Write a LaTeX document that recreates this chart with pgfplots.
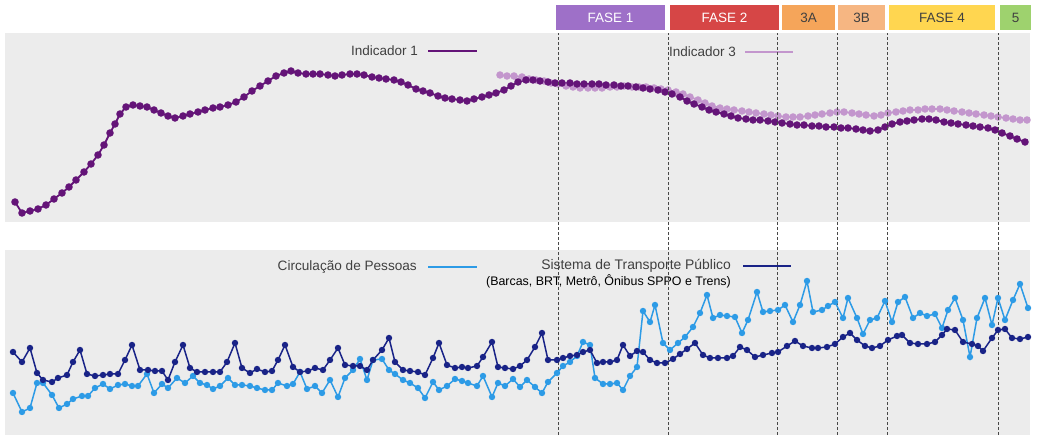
\documentclass[border=0pt]{standalone}
\usepackage{pgfplots}
\pgfplotsset{compat=1.18}
\usepackage{fontspec}
\setmainfont{Liberation Sans}
\definecolor{bggray}{RGB}{236,236,236}
\definecolor{ind1}{RGB}{100,20,120}
\definecolor{ind3}{RGB}{195,150,205}
\definecolor{circ}{RGB}{45,155,230}
\definecolor{stp}{RGB}{25,35,135}
\definecolor{txt}{RGB}{64,64,64}
\definecolor{f1}{RGB}{158,112,200}
\definecolor{f2}{RGB}{214,70,70}
\definecolor{f3a}{RGB}{245,165,90}
\definecolor{f3b}{RGB}{246,182,130}
\definecolor{f4}{RGB}{255,214,80}
\definecolor{f5}{RGB}{158,210,110}
\pgfplotstableread{
x y
15 20
22 9
30 11
38 13
46 17
54 23
62 29
69 35
76 42
84 50
91 58
98 67
104 77
110 89
115 98
120 108
126 115
133 117
140 116
147 115
154 112
161 109
168 106
175 104
183 106
190 108
198 110
205 112
213 114
220 115
228 117
236 120
244 125
252 131
260 136
268 141
276 146
284 149
291 151
298 149
306 148
313 148
320 148
328 147
335 146
342 147
350 148
357 148
364 147
372 145
379 144
386 143
394 142
401 140
408 137
416 133
423 131
430 129
438 126
445 124
452 123
460 122
467 121
474 123
482 125
489 127
496 129
504 132
511 136
518 140
526 142
533 142
540 141
548 140
555 139
562 139
570 139
577 138
584 138
592 138
599 138
606 137
614 137
621 136
628 136
636 135
643 134
650 133
658 132
665 130
672 128
680 125
687 121
694 118
702 115
709 112
716 110
724 108
731 106
738 104
746 103
753 102
760 102
768 101
775 100
782 99
790 98
797 97
804 97
812 96
819 96
826 95
834 95
841 94
848 94
856 93
863 92
870 91
878 92
885 95
892 98
900 100
907 101
914 102
922 103
929 103
936 102
944 100
951 99
958 98
966 97
973 96
980 95
988 94
995 92
1002 89
1010 86
1017 83
1025 80
}\indone
\pgfplotstableread{
x y
500 147
507 146
514 146
522 145
529 143
536 142
544 141
551 139
558 138
566 136
573 135
580 134
588 134
595 134
602 134
610 135
617 135
624 136
632 135
639 135
646 135
654 134
661 133
668 132
676 130
683 128
690 125
698 122
705 119
712 116
720 114
727 113
734 112
742 111
749 110
756 109
764 108
771 107
778 106
786 105
793 105
800 105
808 106
815 107
822 108
830 109
837 110
844 110
852 109
859 108
866 107
874 106
881 107
888 109
896 110
903 111
910 112
918 112
925 113
932 113
940 113
947 112
954 111
962 110
969 109
976 108
984 107
991 106
998 105
1006 104
1013 103
1020 102
1027 102
}\indthree
\pgfplotstableread{
x y
13 42
22 23
30 27
37 52
43 52
52 40
59 27
67 31
73 36
82 39
88 39
95 47
103 51
110 46
118 50
125 51
132 49
138 49
147 61
154 42
162 51
168 47
177 57
185 52
193 59
200 52
207 50
213 46
220 49
228 57
235 50
242 50
250 49
257 47
265 45
272 45
278 52
287 49
293 51
300 63
307 46
315 49
322 42
330 55
338 38
345 57
353 65
360 76
367 55
373 75
382 76
389 65
395 61
403 55
410 52
418 47
425 37
433 53
439 45
447 49
455 56
462 54
468 52
477 49
483 59
492 38
498 52
505 49
513 56
520 48
527 55
535 48
542 42
548 53
557 62
563 69
570 73
577 79
583 93
590 90
595 57
603 51
610 51
617 52
623 45
630 59
637 68
643 124
650 113
655 130
663 92
670 85
678 92
685 98
693 108
700 122
707 140
713 117
720 120
727 119
735 118
742 102
748 115
757 143
763 123
770 124
778 125
785 130
793 113
800 130
807 154
813 123
822 125
828 129
835 133
843 117
848 137
857 117
863 101
870 115
877 117
885 134
892 113
898 133
905 138
913 117
920 122
927 119
935 121
942 107
948 125
955 137
963 115
970 78
977 117
985 137
992 110
998 137
1005 115
1013 135
1020 151
1028 127
}\circdata
\pgfplotstableread{
x y
13 83
22 73
30 87
37 62
43 55
52 53
58 57
67 60
73 73
80 85
87 61
95 59
103 60
110 61
118 61
125 75
132 90
140 65
148 65
155 64
162 64
168 55
175 73
183 90
190 67
197 63
205 63
213 63
220 63
227 73
235 92
242 67
250 62
257 66
265 63
272 64
278 75
285 90
293 68
300 63
308 64
315 67
323 65
330 75
338 87
345 70
353 69
360 69
367 65
373 75
382 85
389 97
395 73
403 65
410 64
418 63
425 60
433 77
439 92
447 70
455 67
462 68
468 67
477 69
483 78
492 93
498 68
505 67
513 66
520 69
527 75
535 88
542 102
548 75
557 75
563 77
570 79
577 80
583 83
590 85
597 72
603 73
610 73
617 75
623 90
630 79
637 84
643 83
650 75
657 72
665 72
673 76
680 81
687 86
695 92
703 80
710 77
718 77
727 77
733 79
740 88
747 85
755 78
763 80
772 82
778 83
787 89
795 94
803 89
812 87
818 87
827 88
835 91
843 98
850 102
857 95
865 89
872 87
880 89
888 95
897 99
902 100
910 92
918 91
927 91
935 93
942 100
947 106
955 105
963 93
972 91
978 89
983 84
992 97
998 105
1005 106
1012 97
1020 96
1028 98
}\stpdata
\begin{document}
\begin{tikzpicture}[x=1pt,y=1pt]
\path[use as bounding box] (0,0) rectangle (1037,438);
% ---------------- top panel ----------------
\begin{axis}[at={(5,216)}, anchor=south west, scale only axis,
  width=1025pt, height=189pt, xmin=5, xmax=1030, ymin=0, ymax=189,
  axis line style={draw=none}, ticks=none,
  axis background/.style={fill=bggray}, clip=false]
% phase boxes
\fill[f1] (axis cs:556,192) rectangle (axis cs:665,217);
\fill[f2] (axis cs:670,192) rectangle (axis cs:779,217);
\fill[f3a] (axis cs:782,192) rectangle (axis cs:835,217);
\fill[f3b] (axis cs:838,192) rectangle (axis cs:885,217);
\fill[f4] (axis cs:889,192) rectangle (axis cs:995,217);
\fill[f5] (axis cs:1000,192) rectangle (axis cs:1031,217);
\node[white, font=\fontsize{13.5}{15}\selectfont] at (axis cs:610.5,204.5) {FASE 1};
\node[white, font=\fontsize{13.5}{15}\selectfont] at (axis cs:724.5,204.5) {FASE 2};
\node[txt, font=\fontsize{13.5}{15}\selectfont] at (axis cs:808.5,204.5) {3A};
\node[txt, font=\fontsize{13.5}{15}\selectfont] at (axis cs:861.5,204.5) {3B};
\node[txt, font=\fontsize{13.5}{15}\selectfont] at (axis cs:942,204.5) {FASE 4};
\node[txt, font=\fontsize{13.5}{15}\selectfont] at (axis cs:1015.5,204.5) {5};
% legend
\node[anchor=east, inner sep=0pt, txt, font=\fontsize{13.5}{15}\selectfont] at (axis cs:418,171) {Indicador 1};
\draw[ind1, line width=1.8pt] (axis cs:428,171) -- (axis cs:477,171);
\node[anchor=east, inner sep=0pt, txt, font=\fontsize{13.5}{15}\selectfont] at (axis cs:736,170) {Indicador 3};
\draw[ind3, line width=1.8pt] (axis cs:745,170) -- (axis cs:793,170);
\addplot[ind3, line width=1.8pt, mark=*, mark size=2.8pt, mark options={fill=ind3, draw=ind3}] table {\indthree};
\addplot[ind1, line width=1.8pt, mark=*, mark size=2.8pt, mark options={fill=ind1, draw=ind1}] table {\indone};
\end{axis}
% ---------------- bottom panel ----------------
\begin{axis}[at={(5,3)}, anchor=south west, scale only axis,
  width=1025pt, height=185pt, xmin=5, xmax=1030, ymin=0, ymax=185,
  axis line style={draw=none}, ticks=none,
  axis background/.style={fill=bggray}, clip=false]
\draw[black!72, line width=1pt, dash pattern=on 3pt off 2pt] (axis cs:558,0) -- (axis cs:558,402);
\draw[black!72, line width=1pt, dash pattern=on 3pt off 2pt] (axis cs:668,0) -- (axis cs:668,402);
\draw[black!72, line width=1pt, dash pattern=on 3pt off 2pt] (axis cs:777,0) -- (axis cs:777,402);
\draw[black!72, line width=1pt, dash pattern=on 3pt off 2pt] (axis cs:837,0) -- (axis cs:837,402);
\draw[black!72, line width=1pt, dash pattern=on 3pt off 2pt] (axis cs:887,0) -- (axis cs:887,402);
\draw[black!72, line width=1pt, dash pattern=on 3pt off 2pt] (axis cs:998,0) -- (axis cs:998,402);
\node[anchor=east, inner sep=0pt, txt, font=\fontsize{13.6}{15}\selectfont] at (axis cs:417,168) {Circulação de Pessoas};
\draw[circ, line width=1.5pt] (axis cs:428,168) -- (axis cs:477,168);
\node[anchor=east, inner sep=0pt, txt, font=\fontsize{13.9}{15}\selectfont] at (axis cs:731,169) {Sistema de Transporte Público};
\draw[stp, line width=1.5pt] (axis cs:743,169) -- (axis cs:791,169);
\node[anchor=east, inner sep=0pt, black, font=\fontsize{12.4}{14}\selectfont] at (axis cs:731,154) {(Barcas, BRT, Metrô, Ônibus SPPO e Trens)};
\addplot[circ, line width=1.5pt, mark=*, mark size=2.4pt, mark options={fill=circ, draw=circ}] table {\circdata};
\addplot[stp, line width=1.5pt, mark=*, mark size=2.4pt, mark options={fill=stp, draw=stp}] table {\stpdata};
\end{axis}
\end{tikzpicture}
\end{document}
